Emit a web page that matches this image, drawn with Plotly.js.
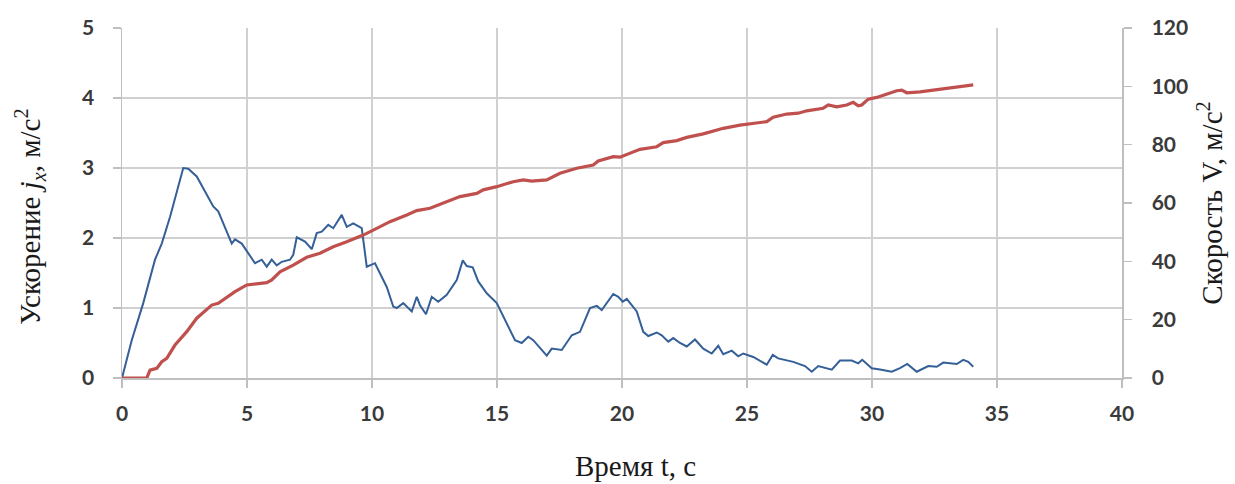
<!DOCTYPE html>
<html>
<head>
<meta charset="utf-8">
<script src="https://cdn.plot.ly/plotly-3.0.1.min.js"></script>
<style>html,body{margin:0;padding:0;background:#fff;}#chart{width:1235px;height:484px;}</style>
</head>
<body>
<div id="chart"></div>
<script>
// Acceleration j_x (m/s^2) vs time (s)
const accelTime = [0, 0.39, 0.85, 1.32, 1.59, 1.92, 2.45, 2.65, 2.99, 3.65, 3.85, 4.39, 4.52, 4.79, 5.32, 5.59, 5.79, 5.99, 6.19, 6.39, 6.72, 6.85, 6.99, 7.32, 7.59, 7.79, 7.99, 8.25, 8.45, 8.79, 8.99, 9.25, 9.59, 9.79, 10.12, 10.39, 10.59, 10.85, 10.99, 11.25, 11.59, 11.79, 11.92, 12.16, 12.39, 12.65, 12.99, 13.39, 13.63, 13.79, 14.03, 14.25, 14.59, 14.99, 15.39, 15.72, 15.99, 16.25, 16.45, 16.99, 17.19, 17.59, 17.99, 18.32, 18.72, 18.99, 19.19, 19.65, 19.85, 20.03, 20.19, 20.59, 20.85, 21.05, 21.39, 21.59, 21.85, 22.05, 22.32, 22.59, 22.92, 23.25, 23.59, 23.85, 24.05, 24.39, 24.65, 24.85, 25.25, 25.79, 26.03, 26.25, 26.85, 27.32, 27.59, 27.85, 28.39, 28.72, 29.19, 29.45, 29.61, 29.99, 30.32, 30.79, 31.12, 31.41, 31.79, 32.25, 32.59, 32.85, 33.39, 33.65, 33.85, 34.05];
const accel = [0, 0.54, 1.07, 1.69, 1.92, 2.30, 3.00, 2.99, 2.88, 2.45, 2.38, 1.92, 1.98, 1.92, 1.64, 1.69, 1.59, 1.69, 1.61, 1.66, 1.69, 1.76, 2.01, 1.95, 1.84, 2.07, 2.09, 2.19, 2.14, 2.33, 2.16, 2.21, 2.14, 1.59, 1.64, 1.45, 1.30, 1.02, 1.00, 1.07, 0.95, 1.16, 1.04, 0.91, 1.16, 1.09, 1.19, 1.40, 1.68, 1.60, 1.58, 1.38, 1.21, 1.07, 0.78, 0.54, 0.50, 0.59, 0.54, 0.32, 0.42, 0.40, 0.61, 0.66, 1.00, 1.03, 0.97, 1.20, 1.16, 1.09, 1.13, 0.95, 0.66, 0.60, 0.65, 0.61, 0.52, 0.57, 0.50, 0.45, 0.55, 0.42, 0.35, 0.46, 0.34, 0.39, 0.31, 0.35, 0.30, 0.19, 0.33, 0.28, 0.23, 0.17, 0.09, 0.17, 0.12, 0.25, 0.25, 0.21, 0.26, 0.14, 0.12, 0.09, 0.14, 0.20, 0.09, 0.17, 0.16, 0.22, 0.20, 0.26, 0.23, 0.16];

// Speed V vs time (s)
const speedTime = [0, 0.99, 1.12, 1.39, 1.59, 1.79, 2.12, 2.59, 2.99, 3.59, 3.85, 4.52, 4.99, 5.79, 5.99, 6.32, 6.85, 7.39, 7.92, 8.45, 8.99, 9.65, 10.19, 10.72, 11.39, 11.79, 12.32, 12.99, 13.52, 14.19, 14.45, 14.99, 15.65, 16.05, 16.39, 16.99, 17.52, 18.19, 18.85, 19.05, 19.65, 19.92, 20.72, 21.39, 21.65, 22.19, 22.59, 23.25, 24.05, 24.72, 25.25, 25.79, 26.05, 26.59, 27.05, 27.39, 28.05, 28.25, 28.59, 28.99, 29.25, 29.45, 29.59, 29.85, 30.19, 30.59, 30.99, 31.19, 31.39, 31.92, 32.45, 33.12, 33.52, 34.05];
const speed = [0, 0, 2.7, 3.3, 5.6, 6.7, 11.3, 15.9, 20.5, 25.0, 25.6, 29.6, 31.9, 32.7, 33.6, 36.4, 38.7, 41.4, 42.8, 45.0, 46.7, 49.0, 51.3, 53.6, 55.9, 57.4, 58.2, 60.5, 62.2, 63.3, 64.5, 65.6, 67.3, 67.9, 67.5, 67.9, 70.2, 71.9, 73.0, 74.4, 75.9, 75.7, 78.4, 79.3, 80.7, 81.4, 82.5, 83.7, 85.6, 86.7, 87.3, 87.9, 89.4, 90.5, 90.8, 91.6, 92.5, 93.6, 93.0, 93.6, 94.5, 93.3, 93.6, 95.6, 96.2, 97.4, 98.5, 98.7, 97.8, 98.1, 98.7, 99.3, 99.7, 100.5];

const xTitle = 'Время t, с';
const yTitle = 'Ускорение <i>j</i><sub><i>x</i></sub>, м/с<sup>2</sup>';
const y2Title = 'Скорость V, м/с<sup>2</sup>';

const tickFont = {family: 'Lato, "Open Sans", sans-serif', size: 21, color: '#3a3a3a', weight: 'bold'};
const titleFont = {family: '"Liberation Serif", "DejaVu Serif", serif', size: 29, color: '#1a1a1a'};

const traces = [
  {x: accelTime, y: accel, type: 'scatter', mode: 'lines', line: {color: '#345f97', width: 2}, yaxis: 'y', hoverinfo: 'skip'},
  {x: speedTime, y: speed, type: 'scatter', mode: 'lines', line: {color: '#c0504d', width: 3.2}, yaxis: 'y2', hoverinfo: 'skip'}
];

const layout = {
  width: 1235, height: 484,
  margin: {l: 122, r: 113, t: 28, b: 106},
  paper_bgcolor: '#fff', plot_bgcolor: '#fff',
  showlegend: false,
  xaxis: {
    range: [0, 40], dtick: 5, tick0: 0,
    showgrid: true, gridcolor: '#d0d0d0', gridwidth: 1.5,
    zeroline: false, showline: true, linecolor: '#bfbfbf', linewidth: 1.5,
    ticks: 'outside', ticklen: 8, tickcolor: '#bfbfbf', tickwidth: 1.5,
    ticklabelstandoff: 8,
    tickfont: tickFont
  },
  yaxis: {
    range: [0, 5], dtick: 1, tick0: 0,
    showgrid: true, gridcolor: '#d0d0d0', gridwidth: 1.5,
    zeroline: false, showline: true, linecolor: '#bfbfbf', linewidth: 1.5,
    ticks: 'outside', ticklen: 8, tickcolor: '#bfbfbf', tickwidth: 1.5,
    ticklabelstandoff: 14,
    tickfont: tickFont
  },
  yaxis2: {
    range: [0, 120], dtick: 20, tick0: 0,
    overlaying: 'y', side: 'right',
    showgrid: false, zeroline: false,
    showline: true, linecolor: '#bfbfbf', linewidth: 1.5,
    ticks: 'outside', ticklen: 8, tickcolor: '#bfbfbf', tickwidth: 1.5,
    ticklabelstandoff: 16,
    tickfont: tickFont,
    title: {text: y2Title, font: titleFont, standoff: 14}
  },
  annotations: [
    {text: xTitle, xref: 'paper', yref: 'paper', x: 0.513, y: -0.251,
     xanchor: 'center', yanchor: 'middle', showarrow: false, font: titleFont},
    {text: yTitle, xref: 'paper', yref: 'paper', x: -0.092, y: 0.46, textangle: -90,
     xanchor: 'center', yanchor: 'middle', showarrow: false, font: titleFont}
  ]
};

Plotly.newPlot('chart', traces, layout, {staticPlot: true, displayModeBar: false});
</script>
</body>
</html>
